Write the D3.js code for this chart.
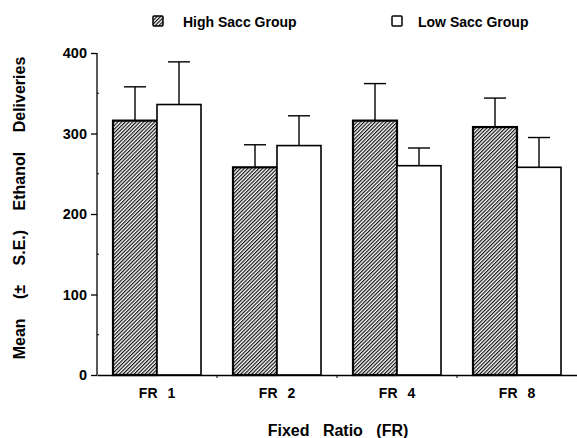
<!DOCTYPE html>
<html>
<head>
<meta charset="utf-8">
<script src="https://cdn.jsdelivr.net/npm/d3@7"></script>
<style>
    body { margin: 0; background: #fff; }
    svg { display: block; font-family: "Liberation Sans", Arial, Helvetica, sans-serif; font-weight: bold; }
</style>
</head>
<body>
<svg id="chart" width="577" height="438"></svg>
<script>
const categories = ["FR 1", "FR 2", "FR 4", "FR 8"];
const groups = ["High Sacc Group", "Low Sacc Group"];
const highMean = [316, 258, 316, 308];
const highSE = [42, 28, 46, 36];
const lowMean = [336, 285, 260, 258];
const lowSE = [53, 37, 22, 37];
const yTicks = [0, 100, 200, 300, 400];
const yMinor = [50, 150, 250, 350];

const margin = ({top: 53, right: 0, bottom: 62, left: 97});
const width = 577;
const height = 438;

const data = categories.map((c, i) => [
    {cat: c, group: groups[0], mean: highMean[i], se: highSE[i]},
    {cat: c, group: groups[1], mean: lowMean[i], se: lowSE[i]}
]).flat();

const svg = d3.select("#chart");

// hatch pattern for the high group
const defs = svg.append("defs");
const pat = defs.append("pattern")
    .attr("id", "hatch")
    .attr("patternUnits", "userSpaceOnUse")
    .attr("width", 2.6)
    .attr("height", 2.6)
    .attr("patternTransform", "rotate(45)");
pat.append("rect").attr("width", 2.6).attr("height", 2.6).attr("fill", "#fff");
pat.append("line")
    .attr("x1", 0.6).attr("y1", 0).attr("x2", 0.6).attr("y2", 2.6)
    .attr("stroke", "#111").attr("stroke-width", 1.2);

const x0 = d3.scaleBand()
    .domain(categories)
    .range([margin.left, width - margin.right]);

const x1 = d3.scaleBand()
    .domain(groups)
    .range([16, x0.bandwidth() - 16]);

const y = d3.scaleLinear()
    .domain([0, 400])
    .range([height - margin.bottom - 1, margin.top]);

// bars
svg.append("g")
    .selectAll("rect")
    .data(data)
    .join("rect")
    .attr("x", d => x0(d.cat) + x1(d.group))
    .attr("y", d => y(d.mean))
    .attr("width", x1.bandwidth())
    .attr("height", d => y(0) - y(d.mean))
    .attr("fill", d => d.group === groups[0] ? "url(#hatch)" : "#fff")
    .attr("stroke", "#000")
    .attr("stroke-width", d => d.group === groups[0] ? 2.2 : 1.6);

// error bars
const err = svg.append("g").attr("stroke", "#000").attr("stroke-width", 1.4);
err.selectAll("line.v")
    .data(data)
    .join("line")
    .attr("class", "v")
    .attr("x1", d => x0(d.cat) + x1(d.group) + x1.bandwidth() / 2)
    .attr("x2", d => x0(d.cat) + x1(d.group) + x1.bandwidth() / 2)
    .attr("y1", d => y(d.mean))
    .attr("y2", d => y(d.mean + d.se));
err.selectAll("line.cap")
    .data(data)
    .join("line")
    .attr("class", "cap")
    .attr("x1", d => x0(d.cat) + x1(d.group) + x1.bandwidth() / 2 - 11)
    .attr("x2", d => x0(d.cat) + x1(d.group) + x1.bandwidth() / 2 + 11)
    .attr("y1", d => y(d.mean + d.se))
    .attr("y2", d => y(d.mean + d.se));

// y axis
const yAxis = svg.append("g")
    .attr("transform", `translate(${margin.left},0)`)
    .call(d3.axisLeft(y).tickValues(yTicks).tickSize(6).tickPadding(4));
yAxis.select(".domain").attr("d", `M-0,${y(400)}V${y(0)}`).attr("stroke-width", 1.3);
yAxis.selectAll(".tick line").attr("stroke-width", 1.3);
yAxis.selectAll("text").attr("font-size", 14.5).attr("font-weight", "bold").attr("fill", "#000")
    .attr("font-family", "Liberation Sans, Arial, sans-serif");

// minor ticks
svg.append("g")
    .selectAll("line")
    .data(yMinor)
    .join("line")
    .attr("x1", margin.left)
    .attr("x2", margin.left + 2)
    .attr("y1", d => y(d))
    .attr("y2", d => y(d))
    .attr("stroke", "#000");

// x axis
const xAxis = svg.append("g")
    .attr("transform", `translate(0,${y(0)})`)
    .call(d3.axisBottom(x0).tickSize(0).tickPadding(13));
xAxis.select(".domain").attr("stroke-width", 1.3);
xAxis.selectAll("text").attr("font-size", 14).attr("font-weight", "bold").attr("fill", "#000")
    .attr("font-family", "Liberation Sans, Arial, sans-serif")
    .attr("word-spacing", 6);

svg.append("g")
    .selectAll("line")
    .data(categories.slice(1))
    .join("line")
    .attr("x1", d => x0(d))
    .attr("x2", d => x0(d))
    .attr("y1", y(0))
    .attr("y2", y(0) + 3)
    .attr("stroke", "#000");

// axis titles
svg.append("text")
    .attr("x", 338)
    .attr("y", 436)
    .attr("text-anchor", "middle")
    .attr("font-size", 16)
    .attr("word-spacing", 9)
    .text("Fixed Ratio (FR)");

svg.append("text")
    .attr("transform", `translate(25,208) rotate(-90)`)
    .attr("text-anchor", "middle")
    .attr("font-size", 16)
    .attr("word-spacing", 15)
    .text("Mean (± S.E.) Ethanol Deliveries");

// legend
const legendX = [153, 392];
const legend = svg.append("g")
    .selectAll("g")
    .data(groups)
    .join("g")
    .attr("transform", (d, i) => `translate(${legendX[i]},16)`);
legend.append("rect")
    .attr("width", 10)
    .attr("height", 10)
    .attr("rx", 1)
    .attr("fill", (d, i) => i === 0 ? "url(#hatch)" : "#fff")
    .attr("stroke", "#000")
    .attr("stroke-width", 1.5);
legend.append("text")
    .attr("x", (d, i) => i === 0 ? 30 : 26)
    .attr("y", 10.5)
    .attr("font-size", 14)
    .text(d => d);
</script>
</body>
</html>
